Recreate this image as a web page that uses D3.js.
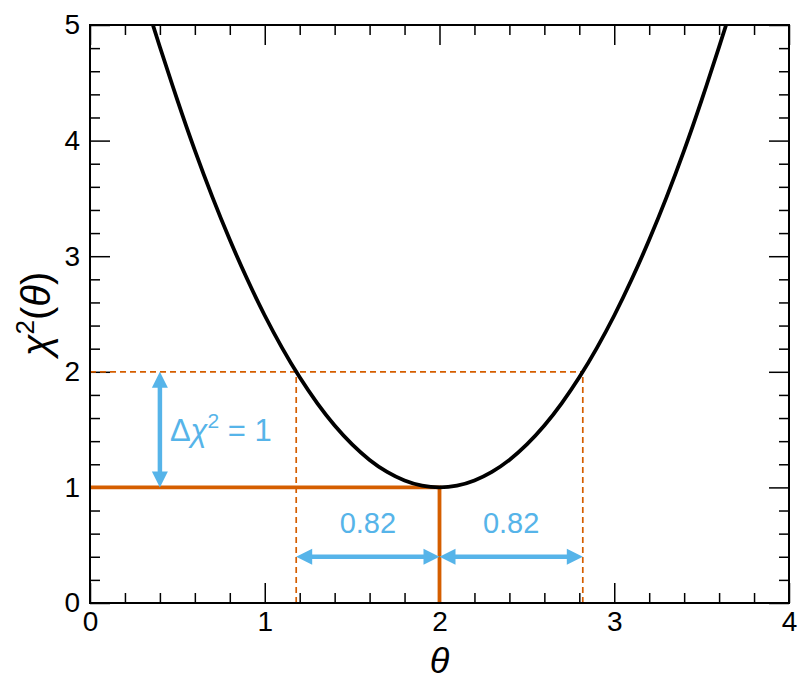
<!DOCTYPE html>
<html>
<head>
<meta charset="utf-8">
<script src="https://cdn.jsdelivr.net/npm/d3@7"></script>
<style>
  html, body { margin: 0; padding: 0; background: #fff; }
  svg { display: block; }
</style>
</head>
<body>
<svg id="chart" width="811" height="695"></svg>
<script>
// ---- data ----
const curveTheta = [0.36, 0.4, 0.5, 0.6, 0.7, 0.8, 0.9, 1.0, 1.1, 1.2, 1.3, 1.4, 1.5, 1.6, 1.7, 1.8, 1.9, 2.0,
                    2.1, 2.2, 2.3, 2.4, 2.5, 2.6, 2.7, 2.8, 2.9, 3.0, 3.1, 3.2, 3.3, 3.4, 3.5, 3.6, 3.64];
const curveChi2  = [5.0, 4.81, 4.35, 3.915, 3.513, 3.142, 2.800, 2.487, 2.205, 1.952, 1.729, 1.535, 1.372, 1.238, 1.134, 1.060, 1.015, 1.0,
                    1.015, 1.060, 1.134, 1.238, 1.372, 1.535, 1.729, 1.952, 2.205, 2.487, 2.800, 3.142, 3.513, 3.915, 4.35, 4.81, 5.0];
const thetaBest = 2.0;
const chi2Min = 1.0;
const thetaLow = 1.18;
const thetaHigh = 2.82;
const deltaChi2 = 1;
const sigmaLabel = "0.82";
const arrowTheta = 0.4;   // x position of vertical arrow
const arrowChi2 = 0.4;    // y position of horizontal arrows
const xTicks = [0, 1, 2, 3, 4];
const yTicks = [0, 1, 2, 3, 4, 5];

// ---- layout ----
const W = 811, H = 695;
const m = { left: 90, right: 22, top: 25, bottom: 92 };
const iw = W - m.left - m.right, ih = H - m.top - m.bottom;
const orange = "#D55E00", blue = "#56B4E9";

const svg = d3.select("#chart");
const g = svg.append("g").attr("transform", `translate(${m.left},${m.top})`);

const x = d3.scaleLinear().domain([0, 4]).range([0, iw]);
const y = d3.scaleLinear().domain([0, 5]).range([ih, 0]);

const minorX = d3.range(0, 4.0001, 0.2).map(v => +v.toFixed(2)).filter(v => !xTicks.includes(v));
const minorY = d3.range(0, 5.0001, 0.2).map(v => +v.toFixed(2)).filter(v => !yTicks.includes(v));

const font = "'Liberation Sans', Arial, sans-serif";

function styleAxis(sel, labels) {
  sel.select(".domain").remove();
  sel.selectAll(".tick line").attr("stroke", "#000").attr("stroke-width", 1.5);
  sel.selectAll(".tick text").attr("font-family", font).attr("font-size", 28).attr("fill", "#000");
  if (!labels) sel.selectAll(".tick text").remove();
}

// bottom
g.append("g").attr("transform", `translate(0,${ih})`)
  .call(d3.axisBottom(x).tickValues(xTicks).tickSize(-20).tickPadding(8).tickFormat(d3.format("d")))
  .call(s => styleAxis(s, true));
g.append("g").attr("transform", `translate(0,${ih})`)
  .call(d3.axisBottom(x).tickValues(minorX).tickSize(-10))
  .call(s => styleAxis(s, false));
// top
g.append("g")
  .call(d3.axisTop(x).tickValues(xTicks).tickSize(-20))
  .call(s => styleAxis(s, false));
g.append("g")
  .call(d3.axisTop(x).tickValues(minorX).tickSize(-10))
  .call(s => styleAxis(s, false));
// left
g.append("g")
  .call(d3.axisLeft(y).tickValues(yTicks).tickSize(-20).tickPadding(10).tickFormat(d3.format("d")))
  .call(s => styleAxis(s, true));
g.append("g")
  .call(d3.axisLeft(y).tickValues(minorY).tickSize(-10))
  .call(s => styleAxis(s, false));
// right
g.append("g").attr("transform", `translate(${iw},0)`)
  .call(d3.axisRight(y).tickValues(yTicks).tickSize(-20))
  .call(s => styleAxis(s, false));
g.append("g").attr("transform", `translate(${iw},0)`)
  .call(d3.axisRight(y).tickValues(minorY).tickSize(-10))
  .call(s => styleAxis(s, false));

// clip
svg.append("defs").append("clipPath").attr("id", "clip")
  .append("rect").attr("width", iw).attr("height", ih);

// dashed guide lines
const dash = "6,4";
g.append("line").attr("x1", x(0)).attr("x2", x(thetaHigh)).attr("y1", y(chi2Min + deltaChi2)).attr("y2", y(chi2Min + deltaChi2))
  .attr("stroke", orange).attr("stroke-width", 1.7).attr("stroke-dasharray", dash);
[thetaLow, thetaHigh].forEach(t => {
  g.append("line").attr("x1", x(t)).attr("x2", x(t)).attr("y1", y(0)).attr("y2", y(chi2Min + deltaChi2))
    .attr("stroke", orange).attr("stroke-width", 1.7).attr("stroke-dasharray", dash);
});

// solid orange lines
g.append("path")
  .attr("d", `M${x(0)},${y(chi2Min)}H${x(thetaBest)}V${y(0)}`)
  .attr("fill", "none").attr("stroke", orange).attr("stroke-width", 3.8);

// curve
const pts = curveTheta.map((t, i) => [t, curveChi2[i]]);
g.append("path").datum(pts)
  .attr("clip-path", "url(#clip)")
  .attr("d", d3.line().x(d => x(d[0])).y(d => y(d[1])).curve(d3.curveNatural))
  .attr("fill", "none").attr("stroke", "#000").attr("stroke-width", 3.8);

// arrows
function dArrow(x1, y1, x2, y2) {
  const len = Math.hypot(x2 - x1, y2 - y1);
  const ux = (x2 - x1) / len, uy = (y2 - y1) / len;
  const px = -uy, py = ux;
  const hl = 16, hw = 8;
  const a = g.append("g");
  a.append("line")
    .attr("x1", x1 + ux * hl * 0.8).attr("y1", y1 + uy * hl * 0.8)
    .attr("x2", x2 - ux * hl * 0.8).attr("y2", y2 - uy * hl * 0.8)
    .attr("stroke", blue).attr("stroke-width", 4.5);
  const head = (tx, ty, dx, dy) => {
    const bx = tx - dx * hl, by = ty - dy * hl;
    return `M${tx},${ty}L${bx + px * hw},${by + py * hw}L${bx - px * hw},${by - py * hw}Z`;
  };
  a.append("path").attr("d", head(x2, y2, ux, uy)).attr("fill", blue);
  a.append("path").attr("d", head(x1, y1, -ux, -uy)).attr("fill", blue);
}
dArrow(x(arrowTheta), y(chi2Min), x(arrowTheta), y(chi2Min + deltaChi2));
dArrow(x(thetaLow), y(arrowChi2), x(thetaBest), y(arrowChi2));
dArrow(x(thetaBest), y(arrowChi2), x(thetaHigh), y(arrowChi2));

// blue labels
const dt = g.append("text")
  .attr("x", x(arrowTheta) + 10).attr("y", y(chi2Min + deltaChi2 / 2) + 11)
  .attr("font-family", font).attr("font-size", 31).attr("fill", blue);
dt.append("tspan").text("Δ");
dt.append("tspan").attr("font-style", "italic").text("χ");
dt.append("tspan").attr("font-size", 21).attr("dy", -13).text("2");
dt.append("tspan").attr("dy", 13).text(" = " + deltaChi2);

[[thetaLow, thetaBest], [thetaBest, thetaHigh]].forEach(([a, b]) => {
  g.append("text")
    .attr("x", x((a + b) / 2)).attr("y", y(arrowChi2) - 24)
    .attr("text-anchor", "middle")
    .attr("font-family", font).attr("font-size", 29).attr("fill", blue)
    .text(sigmaLabel);
});

// frame
g.append("rect").attr("width", iw).attr("height", ih)
  .attr("fill", "none").attr("stroke", "#000").attr("stroke-width", 2);

// axis labels
g.append("text")
  .attr("x", iw / 2).attr("y", ih + 70)
  .attr("text-anchor", "middle")
  .attr("font-family", font).attr("font-size", 36).attr("font-style", "italic")
  .text("θ");

const yl = svg.append("text")
  .attr("transform", `translate(50,${m.top + ih / 2}) rotate(-90)`)
  .attr("text-anchor", "middle")
  .attr("font-family", font).attr("font-size", 40);
yl.append("tspan").attr("font-style", "italic").text("χ");
yl.append("tspan").attr("font-size", 26).attr("dy", -16).text("2");
yl.append("tspan").attr("dy", 16).text("(");
yl.append("tspan").attr("font-style", "italic").text("θ");
yl.append("tspan").text(")");
</script>
</body>
</html>
